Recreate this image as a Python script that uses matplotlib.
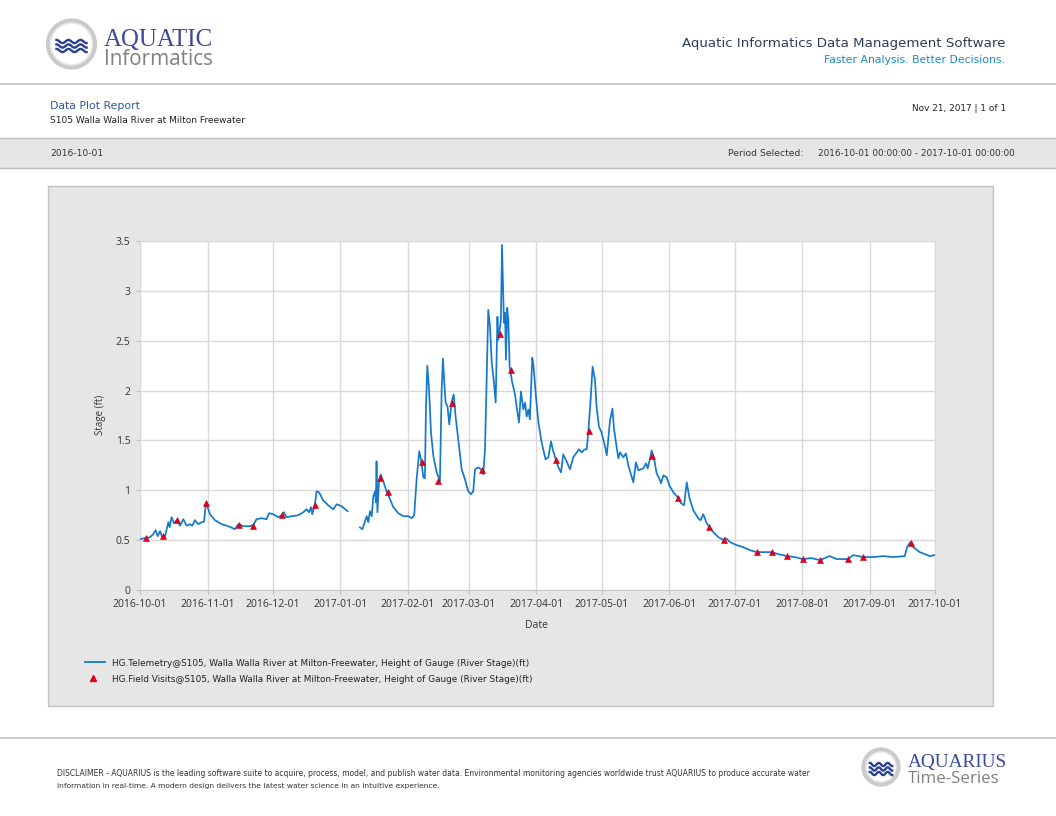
import numpy as np
import pandas as pd
import matplotlib
matplotlib.use("Agg")
import matplotlib.pyplot as plt
from matplotlib.patches import Rectangle, Ellipse
from matplotlib.lines import Line2D

W, H = 1056, 816

start = pd.Timestamp("2016-10-01")
end = pd.Timestamp("2017-10-01")

# HG.Telemetry stage (ft), x = days since 2016-10-01 00:00 (nan = data gap)
tel_days = [0, 2.3, 4.6, 6.1, 7.2, 8.1, 9.2, 10.2, 11.5, 13.0, 13.6, 14.5, 15.6, 17.0, 18.4, 19.9,
            21.4, 22.9, 24.0, 25.2, 26.8, 28.3, 29.4, 30.3, 32.1, 34.4, 37.5, 40.5, 43.6, 45.1,
            47.4, 50.5, 52.0, 53.5, 55.8, 58.1, 59.2, 61.2, 63.5, 65.0, 66.1, 67.3, 69.6, 72.7,
            75.0, 76.5, 77.6, 78.5, 79.1, 80.3, 81.1, 82.2, 84.1, 86.4, 88.7, 90.3, 92.6, 95.3,
            98.0,
            101.0, 102.1, 103.3, 104.1, 104.8, 105.6, 106.4, 107.1, 107.9, 108.3, 108.6, 109.0,
            109.7, 110.5, 111.7, 113.2, 114.8, 116.3, 118.6, 120.9, 123.2, 124.7, 125.9, 127.0,
            128.2, 129.0, 130.1, 130.8, 131.3, 131.9, 132.7, 133.6, 134.7, 136.2, 137.7, 138.5,
            139.1, 139.7, 140.3, 141.2, 142.0, 143.1, 144.0, 144.9, 146.1, 147.7, 149.2, 150.7,
            152.0, 153.0, 153.8, 155.3, 156.6, 157.6, 158.4, 159.2, 159.9, 160.7, 161.5, 162.5,
            163.3, 164.1, 164.5, 165.7, 166.2, 166.7, 167.1, 167.6, 168.0, 168.6, 169.1, 169.7,
            170.9, 172.2, 172.9, 174.0, 174.9, 176.0, 176.8, 177.5, 178.3, 179.0, 180.1, 180.7,
            181.8, 182.9, 184.4, 186.2, 187.5, 188.7, 189.5, 191.0, 192.1, 193.3, 194.3, 195.9,
            197.4, 198.9, 200.5, 201.5, 202.8, 204.0, 205.1, 205.8, 206.9, 207.8, 208.9, 209.6,
            210.7, 211.9, 213.5, 214.3, 215.8, 216.9, 217.6, 218.9, 219.6, 220.4, 221.9, 223.1,
            224.2, 226.5, 227.7, 228.8, 231.1, 232.3, 233.1, 234.2, 234.9, 236.0, 237.2, 238.4,
            239.2, 240.3, 241.8, 243.0, 244.9, 246.1, 247.2, 248.4, 249.8, 251.0, 252.2, 254.0,
            256.3, 257.4, 258.6, 260.2, 261.2, 263.2, 265.5, 268.1, 269.0, 270.9, 273.9, 276.9,
            280.0, 283.1, 286.1, 290.0, 293.0, 297.1, 300.7, 304.2, 308.3, 312.1, 316.7, 319.8,
            325.1, 327.4, 332.0, 336.6, 341.2, 345.8, 351.1, 352.2, 353.7, 355.0, 358.0, 362.6,
            364.9]
tel_stage = [0.51, 0.52, 0.53, 0.56, 0.60, 0.54, 0.59, 0.53, 0.54, 0.68, 0.63, 0.73, 0.67, 0.70, 0.645, 0.71,
             0.645, 0.66, 0.645, 0.70, 0.66, 0.68, 0.685, 0.88, 0.76, 0.70, 0.66, 0.64, 0.61, 0.66,
             0.64, 0.64, 0.65, 0.71, 0.72, 0.71, 0.77, 0.76, 0.73, 0.75, 0.78, 0.73, 0.74, 0.75,
             0.78, 0.81, 0.78, 0.83, 0.76, 0.86, 0.99, 0.98, 0.90, 0.85, 0.81, 0.86, 0.84, 0.79,
             np.nan,
             0.627, 0.61, 0.69, 0.74, 0.68, 0.79, 0.74, 0.94, 0.99, 0.88, 1.29, 0.78,
             1.08, 1.16, 1.09, 0.99, 0.91, 0.83, 0.77, 0.74, 0.74, 0.72, 0.75, 1.11,
             1.39, 1.31, 1.13, 1.12, 1.84, 2.25, 2.01, 1.58, 1.34, 1.18, 1.09, 2.01,
             2.32, 2.08, 1.88, 1.84, 1.66, 1.89, 1.96, 1.74, 1.51, 1.21, 1.11, 0.99,
             0.96, 0.99, 1.21, 1.23, 1.21, 1.16, 1.41, 2.18, 2.81, 2.64, 2.28, 2.08,
             1.88, 2.74, 2.51, 2.71, 3.46, 3.01, 2.68, 2.78, 2.31, 2.83, 2.71, 2.24,
             2.08, 1.96, 1.84, 1.68, 1.99, 1.81, 1.88, 1.74, 1.81, 1.71, 2.33, 2.24,
             1.94, 1.68, 1.48, 1.31, 1.33, 1.49, 1.41, 1.30, 1.23, 1.18, 1.36, 1.29,
             1.21, 1.33, 1.38, 1.41, 1.38, 1.41, 1.41, 1.58, 1.91, 2.24, 2.11, 1.84,
             1.64, 1.58, 1.44, 1.35, 1.70, 1.82, 1.62, 1.42, 1.32, 1.38, 1.33, 1.37,
             1.25, 1.08, 1.28, 1.20, 1.22, 1.27, 1.22, 1.32, 1.40, 1.32, 1.17, 1.12,
             1.07, 1.15, 1.13, 1.05, 0.98, 0.95, 0.92, 0.87, 0.85, 1.08, 0.93, 0.80,
             0.72, 0.70, 0.76, 0.67, 0.64, 0.58, 0.53, 0.50, 0.52, 0.48, 0.45, 0.43,
             0.40, 0.38, 0.38, 0.38, 0.36, 0.34, 0.33, 0.31, 0.32, 0.30, 0.34, 0.31,
             0.31, 0.35, 0.33, 0.33, 0.34, 0.33, 0.34, 0.43, 0.48, 0.43, 0.38, 0.34,
             0.35]

# HG.Field Visits stage (ft)
visit_days = [2.7, 10.4, 17.0, 30.3, 45.4, 52.0, 65.0, 80.3, 110.2, 114.0, 129.3, 137.0, 143.4,
              157.1, 165.3, 170.2, 191.0, 206.1, 235.2, 247.2, 261.2, 268.1, 283.1, 290.0, 297.1,
              304.2, 312.1, 325.1, 332.0, 354.1]
visit_stage = [0.52, 0.54, 0.70, 0.87, 0.65, 0.645, 0.75, 0.855, 1.12, 0.98, 1.28, 1.09, 1.88,
               1.20, 2.57, 2.21, 1.30, 1.59, 1.34, 0.92, 0.63, 0.50, 0.38, 0.38, 0.34,
               0.31, 0.30, 0.31, 0.33, 0.47]

x_ticks = ["2016-10-01", "2016-11-01", "2016-12-01", "2017-01-01", "2017-02-01", "2017-03-01",
           "2017-04-01", "2017-05-01", "2017-06-01", "2017-07-01", "2017-08-01", "2017-09-01",
           "2017-10-01"]
y_ticks = [0, 0.5, 1, 1.5, 2, 2.5, 3, 3.5]
y_labels = ["0", "0.5", "1", "1.5", "2", "2.5", "3", "3.5"]

legend_names = ["HG.Telemetry@S105, Walla Walla River at Milton-Freewater, Height of Gauge (River Stage)(ft)",
                "HG.Field Visits@S105, Walla Walla River at Milton-Freewater, Height of Gauge (River Stage)(ft)"]

LINE_C = "#1479cc"
TRI_C = "#e3001b"
NARROW = ["Liberation Sans Narrow", "DejaVu Sans"]
SANS = ["Open Sans", "DejaVu Sans"]

fig = plt.figure(figsize=(W / 100, H / 100), dpi=100)
fig.patch.set_facecolor("white")
renderer = fig.canvas.get_renderer()


def fx(x):
    return x / W


def fy(y):
    return 1 - y / H


def put(x, y, s, width=None, ha="left", va="baseline", size=8, **kw):
    # place text by pixel coords, optionally squeeze to a target width
    t = fig.text(fx(x), fy(y), s, ha=ha, va=va, fontsize=size, **kw)
    if width:
        w = t.get_window_extent(renderer).width
        t.set_fontsize(size * width / w)
    return t


def hline(y, x0=0, x1=W, color="#c4c4c4", lw=1.2):
    fig.add_artist(Line2D([fx(x0), fx(x1)], [fy(y), fy(y)], color=color, lw=lw, zorder=-3))


def box(x0, y0, x1, y1, fc, ec):
    fig.add_artist(Rectangle((fx(x0), fy(y1)), fx(x1) - fx(x0), (y1 - y0) / H,
                             facecolor=fc, edgecolor=ec, lw=1, transform=fig.transFigure,
                             zorder=-5))


def logo_ring(cx, cy, r):
    fig.add_artist(Ellipse((fx(cx), fy(cy)), 2 * r / W, 2 * r / H, facecolor="white",
                           edgecolor="#cacaca", lw=3.0, transform=fig.transFigure))
    fig.add_artist(Ellipse((fx(cx), fy(cy)), 2 * (r - 2.5) / W, 2 * (r - 2.5) / H, facecolor="none",
                           edgecolor="#e6e6e6", lw=1.0, transform=fig.transFigure))
    half = r * 0.64
    t = np.linspace(-half, half, 80)
    for dy in [-4.5, 0, 4.5]:
        yy = cy + 2 + dy + 1.6 * np.sin(t / half * np.pi * 2.5)
        fig.add_artist(Line2D(fx(cx + t), fy(yy), color="#2b3f93", lw=1.7))


# ---------- header ----------
logo_ring(71.5, 44, 23.5)
put(104, 46, "AQUATIC", width=109, size=20, color="#3a4b9f", family=["Liberation Serif", "DejaVu Serif"])
put(104, 65, "Informatics", width=109, size=16, color="#808080", family=SANS)

put(1005, 47, "Aquatic Informatics Data Management Software", width=320, ha="right", size=12,
    color="#2f3d5c", family=NARROW)
put(1005, 63, "Faster Analysis. Better Decisions.", width=181, ha="right", size=9,
    color="#1f8bc9", family=NARROW)
hline(84)

put(50, 109, "Data Plot Report", width=90, size=9, color="#2c5aa0", family=NARROW)
put(50, 123, "S105 Walla Walla River at Milton Freewater", width=196, size=7, color="#222222", family=NARROW)
put(1006, 111, "Nov 21, 2017 | 1 of 1", width=94, ha="right", size=7, color="#222222", family=NARROW)

box(-2, 138, W + 2, 168, "#e6e6e6", "#bdbdbd")
put(50, 156, "2016-10-01", width=53, size=7, color="#333333", family=NARROW)
put(728, 156, "Period Selected:", width=75, size=7, color="#333333", family=NARROW)
put(818, 156, "2016-10-01 00:00:00 - 2017-10-01 00:00:00", width=197, size=7, color="#333333",
    family=NARROW)

# ---------- chart panel ----------
box(48, 186, 993, 706, "#e6e6e6", "#c2c2c2")

ax = fig.add_axes([fx(140), fy(590), (935 - 140) / W, (590 - 241) / H])
ax.set_facecolor("white")

tel_dates = start + pd.to_timedelta(tel_days, unit="D")
visit_dates = start + pd.to_timedelta(visit_days, unit="D")

ax.plot(tel_dates, tel_stage, color=LINE_C, lw=1.25, zorder=3)
ax.plot(visit_dates, visit_stage, linestyle="none", marker="^", ms=5, color=TRI_C,
        mec="#c00018", mew=0.4, zorder=4)

ax.set_xlim(start, end)
ax.set_ylim(0, 3.5)
ax.set_xticks(pd.to_datetime(x_ticks))
ax.set_xticklabels(x_ticks)
ax.set_yticks(y_ticks)
ax.set_yticklabels(y_labels)
ax.grid(True, color="#d9d9d9", lw=1)
ax.set_axisbelow(True)
for s in ax.spines.values():
    s.set_color("#d9d9d9")
ax.spines["bottom"].set_color("#c8c8c8")
ax.tick_params(axis="both", colors="#bdbdbd", labelcolor="#333333", labelsize=7.5, length=3,
               width=0.8)
ax.tick_params(axis="x", pad=3.2)
ax.tick_params(axis="y", pad=4)
for lab in ax.get_xticklabels() + ax.get_yticklabels():
    lab.set_family(SANS)

put(537, 628, "Date", ha="center", size=7.5, color="#333333", family=SANS)
put(100, 415, "Stage (ft)", ha="center", va="center", size=7, rotation=90, color="#333333",
    family=SANS)

# legend
fig.add_artist(Line2D([fx(85), fx(105)], [fy(662), fy(662)], color=LINE_C, lw=1.3))
fig.add_artist(Line2D([fx(93)], [fy(678)], marker="^", ms=4.5, color=TRI_C, linestyle="none"))
put(112, 666, legend_names[0], width=420, size=7, color="#222222", family=NARROW)
put(112, 682, legend_names[1], width=420, size=7, color="#222222", family=NARROW)

# ---------- footer ----------
hline(738)
put(57, 776, "DISCLAIMER - AQUARIUS is the leading software suite to acquire, process, model, and publish "
    "water data. Environmental monitoring agencies worldwide trust AQUARIUS to produce accurate water",
    width=756, size=6, color="#333333", family=NARROW)
put(57, 788, "information in real-time. A modern design delivers the latest water science in an intuitive experience.",
    width=385, size=6, color="#333333", family=NARROW)

logo_ring(881, 767, 17.5)
put(908, 767, "AQUARIUS", width=100, size=14, color="#3a4b9f", family=["Liberation Serif", "DejaVu Serif"])
put(908, 783, "Time-Series", width=91, size=12, color="#808080", family=SANS)

fig.savefig("out.png", dpi=100)
